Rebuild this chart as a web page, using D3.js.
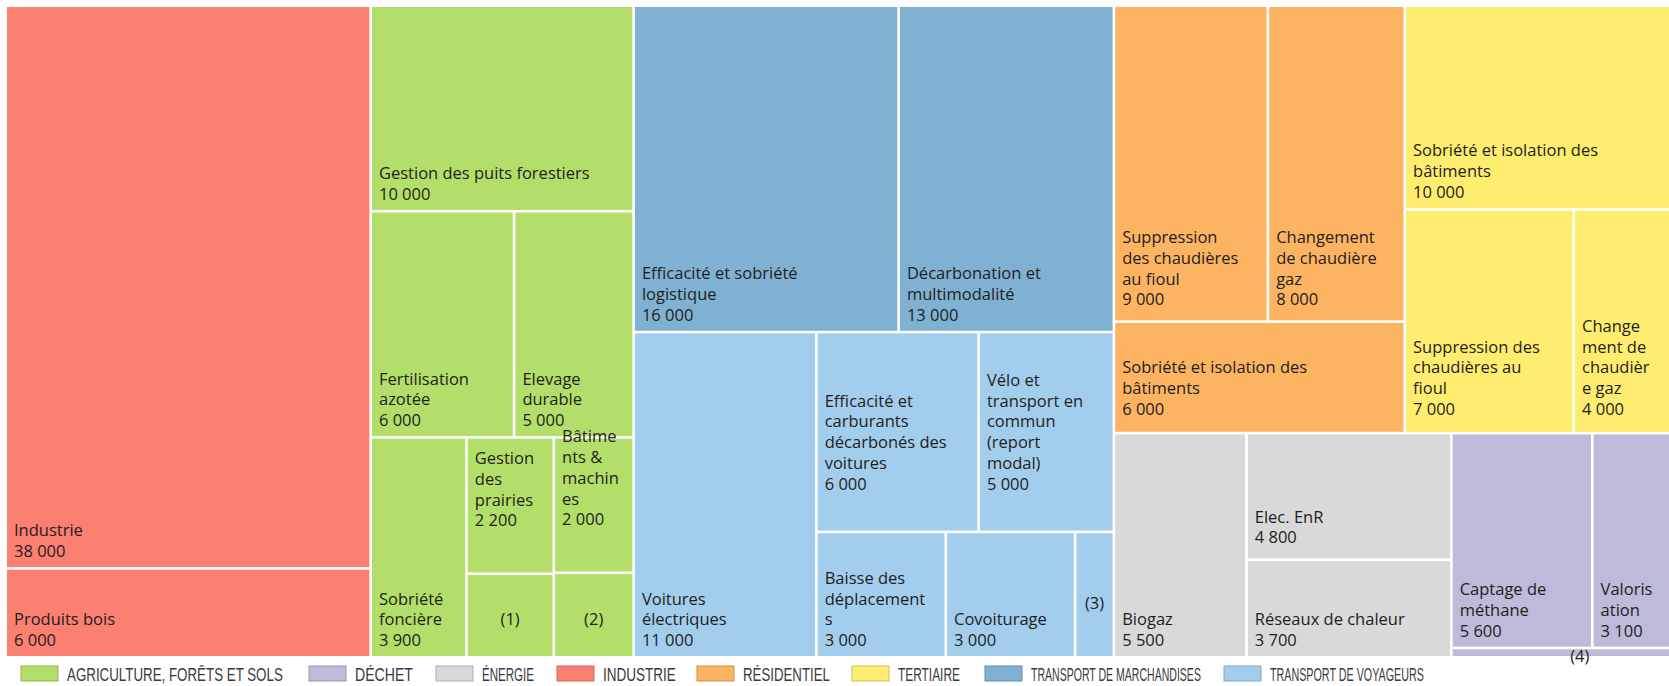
<!DOCTYPE html>
<html><head><meta charset="utf-8">
<script src="https://cdn.jsdelivr.net/npm/d3@7"></script>
<style>
html,body{margin:0;padding:0;background:#fff;}
svg{display:block;}
</style></head><body>
<svg id="chart" width="1669" height="686"></svg>
<script>
// ---- data ----
const sectors = ["AGRICULTURE, FORÊTS ET SOLS","DÉCHET","ÉNERGIE","INDUSTRIE","RÉSIDENTIEL","TERTIAIRE","TRANSPORT DE MARCHANDISES","TRANSPORT DE VOYAGEURS"];
const sectorColors = ["#b3de69","#bebada","#d9d9d9","#fb8072","#fdb462","#ffed6f","#80b1d3","#a3cdec"];

const leafNames = [
  "Industrie", "Produits bois",
  "Gestion des puits forestiers", "Fertilisation\nazotée", "Elevage\ndurable", "Sobriété\nfoncière",
  "Gestion\ndes\nprairies", "Bâtime\nnts &\nmachin\nes", "(1)", "(2)",
  "Efficacité et sobriété\nlogistique", "Décarbonation et\nmultimodalité",
  "Voitures\nélectriques", "Efficacité et\ncarburants\ndécarbonés des\nvoitures", "Vélo et\ntransport en\ncommun\n(report\nmodal)",
  "Baisse des\ndéplacement\ns", "Covoiturage", "(3)",
  "Suppression\ndes chaudières\nau fioul", "Changement\nde chaudière\ngaz", "Sobriété et isolation des\nbâtiments",
  "Sobriété et isolation des\nbâtiments", "Suppression des\nchaudières au\nfioul", "Change\nment de\nchaudièr\ne gaz",
  "Biogaz", "Elec. EnR", "Réseaux de chaleur",
  "Captage de\nméthane", "Valoris\nation", "(4)"
];
const leafValues = [
  38000, 6000,
  10000, 6000, 5000, 3900, 2200, 2000, 1350, 1250,
  16000, 13000,
  11000, 6000, 5000, 3000, 3000, 900,
  9000, 8000, 6000,
  10000, 7000, 4000,
  5500, 4800, 3700,
  5600, 3100, 380
];
const leafSector = [
  3, 3,
  0, 0, 0, 0, 0, 0, 0, 0,
  6, 6,
  7, 7, 7, 7, 7, 7,
  4, 4, 4,
  5, 5, 5,
  2, 2, 2,
  1, 1, 1
];
// arrangement of the tiles (h = side by side, v = stacked), leaves are indices
const arrangement = {d:"h", c:[
  {d:"v", c:[0,1]},
  {d:"v", c:[2, {d:"h", c:[3,4]}, {d:"h", c:[5, {d:"v", c:[6,8]}, {d:"v", c:[7,9]}]}]},
  {d:"v", c:[{d:"h", c:[10,11]}, {d:"h", c:[12, {d:"v", c:[{d:"h", c:[13,14]}, {d:"h", c:[15,16,17]}]}]}]},
  {d:"v", c:[
    {d:"h", c:[{d:"v", c:[{d:"h", c:[18,19]}, 20]}, {d:"v", c:[21, {d:"h", c:[22,23]}]}]},
    {d:"h", c:[{d:"h", c:[24, {d:"v", c:[25,26]}]}, {d:"v", c:[{d:"h", c:[27,28]}, 29]}]}
  ]}
]};
// label placement tweaks (by leaf index)
const labelLift = {6:36, 7:36, 13:31, 14:31, 18:5, 19:5, 20:7, 22:7, 23:7, 25:5, 17:16, 29:-37};
const labelDx = {29:19};

// ---- layout ----
const W = 1669, H = 686;
const M = {left:7, top:7, right:0};
const cw = W - M.left - M.right, ch = 649;

function build(n){
  if (typeof n === "number") return {leaf:n};
  return {dir:n.d, children:n.c.map(build)};
}
const root = d3.hierarchy(build(arrangement)).sum(d => d.leaf != null ? leafValues[d.leaf] : 0);
function tile(node, x0, y0, x1, y1){
  (node.data.dir === "h" ? d3.treemapDice : d3.treemapSlice)(node, x0, y0, x1, y1);
}
d3.treemap().tile(tile).size([cw, ch]).paddingInner(2.6)(root);

const color = d3.scaleOrdinal().domain(d3.range(sectors.length)).range(sectorColors);
const fmt = d3.formatLocale({decimal:",", thousands:" ", grouping:[3], currency:["","€"]}).format(",d");

const svg = d3.select("#chart");
const g = svg.append("g").attr("transform", `translate(${M.left},${M.top})`);

const leaves = root.leaves();
g.selectAll("rect.tile").data(leaves).join("rect")
  .attr("class","tile")
  .attr("x", d => d.x0).attr("y", d => d.y0)
  .attr("width", d => Math.max(0, d.x1 - d.x0))
  .attr("height", d => Math.max(0, d.y1 - d.y0))
  .attr("fill", d => color(leafSector[d.data.leaf]));

const LH = 20.75;
const FONT = "'Open Sans', 'Noto Sans', sans-serif";
leaves.forEach(d => {
  const i = d.data.leaf;
  const name = leafNames[i];
  const numbered = /^\(\d\)$/.test(name);
  const lines = name.split("\n");
  lines.push(numbered ? "" : fmt(leafValues[i]));
  const lift = labelLift[i] || 0;
  const last = d.y1 - 10 - lift;
  const x = numbered ? (d.x0 + d.x1) / 2 + (labelDx[i] || 0) : d.x0 + 7;
  const t = g.append("text")
    .attr("font-family", FONT).attr("font-size", 16.5)
    .attr("fill", "#1e1e1e")
    .attr("text-anchor", numbered ? "middle" : "start");
  lines.forEach((ln, k) => {
    if (ln === "") return;
    t.append("tspan").attr("x", x).attr("y", last - (lines.length - 1 - k) * LH).text(ln);
  });
});

// ---- legend ----
const legendX = [21, 309, 436, 557, 697, 852, 985, 1224];   // swatch positions
const legendTextW = [216, 58, 52, 73, 87, 62, 170, 154];     // condensed text widths
const lg = svg.append("g").attr("font-family", "'Liberation Sans', Arial, sans-serif")
  .attr("font-size", 17.5).attr("fill", "#3a3a3a");
sectors.forEach((s, i) => {
  const lx = legendX[i];
  lg.append("rect").attr("x", lx).attr("y", 666).attr("width", 37).attr("height", 15)
    .attr("fill", sectorColors[i]).attr("stroke", d3.color(sectorColors[i]).darker(0.6)).attr("stroke-width", 1);
  const t = lg.append("text").text(s);
  const nat = t.node().getComputedTextLength();
  t.attr("transform", `translate(${lx + 46},680.5) scale(${legendTextW[i] / nat},1)`);
});
</script>
</body></html>
